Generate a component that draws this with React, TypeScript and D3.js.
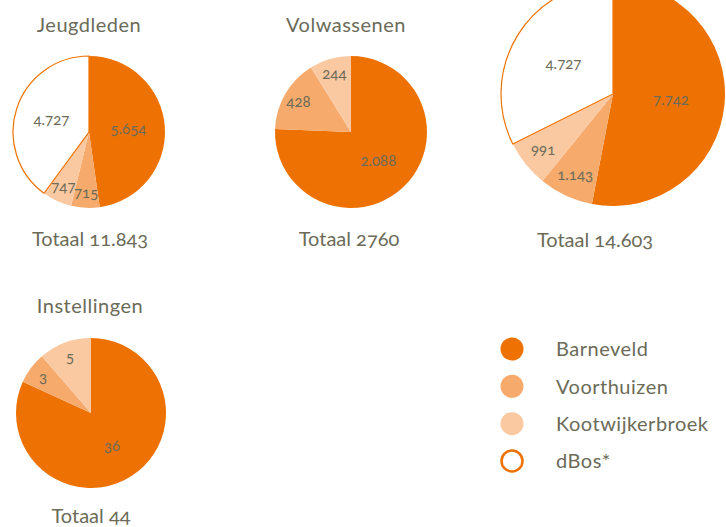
import React, { useEffect, useRef } from "react";
import * as d3 from "d3";

// data
const locations = ["Barneveld", "Voorthuizen", "Kootwijkerbroek", "dBos*"];
const groups = ["Jeugdleden", "Volwassenen", "", "Instellingen"];
const totals = ["Totaal 11.843", "Totaal 2760", "Totaal 14.603", "Totaal 44"];
const jeugdleden = [5654, 715, 747, 4727];
const volwassenen = [2088, 428, 244, 0];
const totaal = [7742, 1143, 991, 4727];
const instellingen = [36, 3, 5, 0];

const seriesList = [jeugdleden, volwassenen, totaal, instellingen];

const ORANGE = "#ee7203";
const fills = [ORANGE, "#f6aa6c", "#fbc9a1", "#ffffff"];
const TEXT = "#6b6b58";
const FONT = "Lato, 'Open Sans', sans-serif";

// layout of the four pies
const pieLayout = [
  { cx: 89, cy: 132, r: 76, titleX: 89, titleY: 32, totalX: 90, totalY: 246 },
  { cx: 351, cy: 132, r: 76, titleX: 346, titleY: 32, totalX: 349, totalY: 246 },
  { cx: 613, cy: 94, r: 112, titleX: 0, titleY: 0, totalX: 595, totalY: 247 },
  { cx: 91, cy: 413, r: 75, titleX: 90, titleY: 313, totalX: 91, totalY: 523 },
];

const fmt = (v: number) => d3.format(",")(v).replace(/,/g, ".");

const App = () => {
  const svgRef = useRef<SVGSVGElement | null>(null);

  useEffect(() => {
    if (!svgRef.current) return;
    const svg = d3.select(svgRef.current);
    svg.selectAll("*").remove();

    const pie = d3.pie<number>().sort(null).value(d => d);

    seriesList.forEach((values, gi) => {
      const L = pieLayout[gi];
      const sum = d3.sum(values);
      const g = svg.append("g").attr("transform", `translate(${L.cx},${L.cy})`);
      const arc = d3.arc<d3.PieArcDatum<number>>().innerRadius(0).outerRadius(L.r);
      const arcs = pie(values).filter(a => a.data > 0);

      g.selectAll("path")
        .data(arcs)
        .enter()
        .append("path")
        .attr("d", arc)
        .attr("fill", d => fills[d.index])
        .attr("stroke", d => (d.index === 3 ? ORANGE : "none"))
        .attr("stroke-width", 1.2);

      // labels: big slices nearer the centre, small ones near the rim
      arcs.forEach(a => {
        const share = a.data / sum;
        const k = share > 0.25 ? 0.52 : 0.8;
        const labelArc = d3.arc<d3.PieArcDatum<number>>().innerRadius(L.r * k).outerRadius(L.r * k);
        const [x, y] = labelArc.centroid(a);
        g.append("text")
          .attr("x", x)
          .attr("y", y)
          .attr("dy", "0.35em")
          .attr("text-anchor", "middle")
          .attr("fill", TEXT)
          .attr("font-family", FONT)
          .attr("font-size", 15)
          .style("font-variant-numeric", "oldstyle-nums")
          .text(fmt(a.data));
      });

      if (groups[gi]) {
        svg.append("text")
          .attr("x", L.titleX)
          .attr("y", L.titleY)
          .attr("text-anchor", "middle")
          .attr("fill", TEXT)
          .attr("font-family", FONT)
          .attr("font-size", 20)
          .attr("letter-spacing", 0.5)
          .text(groups[gi]);
      }

      svg.append("text")
        .attr("x", L.totalX)
        .attr("y", L.totalY)
        .attr("text-anchor", "middle")
        .attr("fill", TEXT)
        .attr("font-family", FONT)
        .attr("font-size", 20)
        .style("font-variant-numeric", "oldstyle-nums")
        .text(totals[gi]);
    });

    // legend
    const legendY = d3.scalePoint<string>().domain(locations).range([349, 461]);
    const legend = svg.append("g");
    locations.forEach((name, i) => {
      const y = legendY(name) as number;
      legend.append("circle")
        .attr("cx", 512)
        .attr("cy", y)
        .attr("r", i === 3 ? 10.5 : 11.5)
        .attr("fill", fills[i])
        .attr("stroke", i === 3 ? ORANGE : "none")
        .attr("stroke-width", 2.5);
      legend.append("text")
        .attr("x", 556)
        .attr("y", y)
        .attr("dy", "0.36em")
        .attr("fill", TEXT)
        .attr("font-family", FONT)
        .attr("font-size", 20)
        .attr("letter-spacing", 0.5)
        .text(name);
    });
  }, []);

  return (
    <div style={{ position: "absolute", left: 0, top: 0 }}>
      <svg ref={svgRef} width={726} height={527} style={{ display: "block", background: "#fff" }} />
    </div>
  );
};

export default App;
